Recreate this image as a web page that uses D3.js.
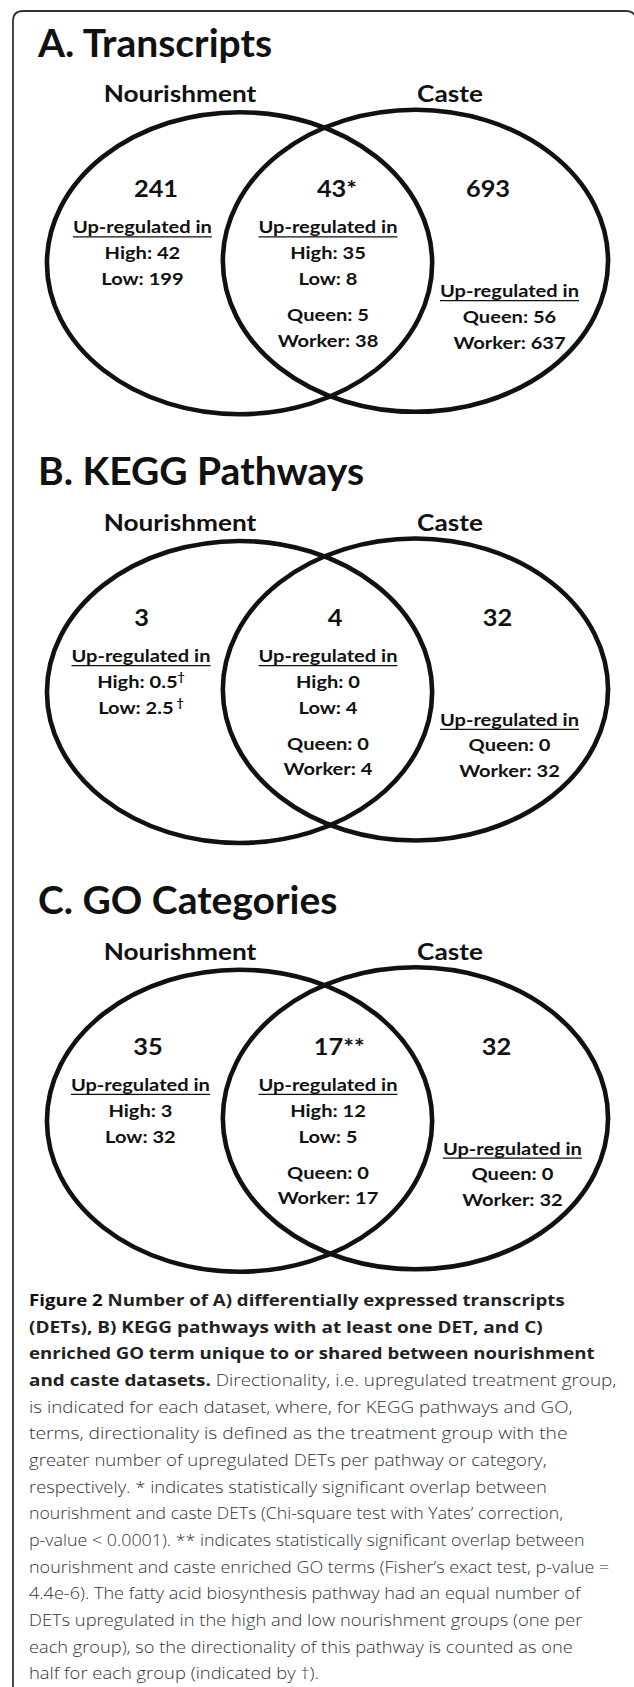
<!DOCTYPE html>
<html lang="en">
<head>
<meta charset="UTF-8">
<title>Figure 2 - Venn diagrams</title>
<script src="https://d3js.org/d3.v7.min.js"></script>
<style>
  body { margin: 0; background: #fff; }
  svg { display: block; }
  text { white-space: pre; }
</style>
</head>
<body>
<div id="chart"></div>
<script>
// panel titles and the two sets
const panelTitles = ["A. Transcripts", "B. KEGG Pathways", "C. GO Categories"];
const setNames = ["Nourishment", "Caste"];

// counts per region (nourishment only, shared, caste only)
const onlyNourish = [241, 3, 35];
const shared = [43, 4, 17];
const sharedMark = ["*", "", "**"];
const onlyCaste = [693, 32, 32];

// up-regulated in ...
const nourishHigh = [42, 0.5, 3];
const nourishLow = [199, 2.5, 32];
const nourishDagger = [false, true, false];
const sharedHigh = [35, 0, 12];
const sharedLow = [8, 4, 5];
const sharedQueen = [5, 0, 0];
const sharedWorker = [38, 4, 17];
const casteQueen = [56, 0, 0];
const casteWorker = [637, 32, 32];

// caption, line by line: [style, text]  (0 regular, 1 bold, 2 bold label)
const captionLines = [
  [[2, "Figure 2"], [1, " Number of A) differentially expressed transcripts"]],
  [[1, "(DETs), B) KEGG pathways with at least one DET, and C)"]],
  [[1, "enriched GO term unique to or shared between nourishment"]],
  [[1, "and caste datasets."], [0, " Directionality, i.e. upregulated treatment group,"]],
  [[0, "is indicated for each dataset, where, for KEGG pathways and GO,"]],
  [[0, "terms, directionality is defined as the treatment group with the"]],
  [[0, "greater number of upregulated DETs per pathway or category,"]],
  [[0, "respectively. * indicates statistically significant overlap between"]],
  [[0, "nourishment and caste DETs (Chi-square test with Yates\u2019 correction,"]],
  [[0, "p-value < 0.0001). ** indicates statistically significant overlap between"]],
  [[0, "nourishment and caste enriched GO terms (Fisher\u2019s exact test, p-value ="]],
  [[0, "4.4e-6). The fatty acid biosynthesis pathway had an equal number of"]],
  [[0, "DETs upregulated in the high and low nourishment groups (one per"]],
  [[0, "each group), so the directionality of this pathway is counted as one"]],
  [[0, "half for each group (indicated by \u2020)."]]
];
// where each caption line ends in the original (ragged right)
const captionEnds = [565, 543, 595, 617, 573, 568, 547, 547, 563, 585, 610, 581, 583, 573, 319];

const W = 634, H = 1687;
const svg = d3.select("#chart").append("svg")
    .attr("width", W)
    .attr("height", H);

// outer frame (open at the bottom)
svg.append("path")
    .attr("d", "M13," + H + " V21 Q13,11 23,11 H626 Q636,11 636,21")
    .attr("fill", "none")
    .attr("stroke", "#333")
    .attr("stroke-width", 1.8);

// scales
let x = d3.scaleLinear().domain([-1, 1]).range([151.6, 503.4]);
let panelY = d3.scaleLinear().domain([0, 2]).range([0, 857.5]);
const radius = 1.095;
const ryPerUnit = 137.9;

// hand placed text columns in the original figure
const numX = [[156, 337, 488], [141.5, 335, 497.4], [148, 339.3, 496.5]];
const colX = [[142.4, 328, 509.5], [141, 328, 509.5], [140.4, 328, 512.4]];

const FONT = "Lato, 'Open Sans', sans-serif";
const SX = 1.14;

function label(g, cx, cy, str, size, sx) {
  return g.append("text")
      .attr("transform", "translate(" + cx + "," + cy + ") scale(" + sx + ",1)")
      .attr("text-anchor", "middle")
      .attr("font-family", FONT)
      .attr("font-weight", 700)
      .attr("font-size", size)
      .attr("fill", "#111")
      .text(str);
}

function underlined(g, cx, cy, str) {
  let t = label(g, cx, cy, str, 17.6, SX);
  let w = t.node().getComputedTextLength() * SX;
  g.append("line")
      .attr("x1", cx - w / 2).attr("x2", cx + w / 2)
      .attr("y1", cy + 3.6).attr("y2", cy + 3.6)
      .attr("stroke", "#111")
      .attr("stroke-width", 1.4);
}

panelTitles.forEach(function (title, i) {
  let g = svg.append("g").attr("transform", "translate(0," + panelY(i) + ")");
  let y = d3.scaleLinear().domain([-1, 1]).range([262 + ryPerUnit, 262 - ryPerUnit]);

  g.append("text")
      .attr("x", 38)
      .attr("y", 56.5)
      .attr("font-family", FONT)
      .attr("font-weight", 700)
      .attr("font-size", 39)
      .attr("fill", "#111")
      .text(title);

  // set names
  label(g, 180, 102, setNames[0], 23, SX);
  label(g, 450, 102, setNames[1], 23, SX);

  // the two ellipses
  g.selectAll("ellipse")
      .data([-0.5, 0.5])
      .enter()
      .append("ellipse")
      .attr("cx", function (d) { return x(d); })
      .attr("cy", function (d) { return y(0) + (d > 0 ? -1.2 : 1.2); })
      .attr("rx", x(radius) - x(0))
      .attr("ry", y(0) - y(radius))
      .attr("fill", "none")
      .attr("stroke", "#111")
      .attr("stroke-width", 4.6);

  // region totals
  label(g, numX[i][0], 197, String(onlyNourish[i]), 23.5, 1.08);
  label(g, numX[i][1], 197, shared[i] + sharedMark[i], 23.5, 1.08);
  label(g, numX[i][2], 197, String(onlyCaste[i]), 23.5, 1.08);

  // nourishment only
  let cl = colX[i];
  underlined(g, cl[0], 233.3, "Up-regulated in");
  let hi = label(g, cl[0], 259.3, "", 17.6, SX);
  hi.append("tspan").text("High: " + nourishHigh[i]);
  let lo = label(g, cl[0], 285, "", 17.6, SX);
  lo.append("tspan").text("Low: " + nourishLow[i]);
  if (nourishDagger[i]) {
    hi.append("tspan").attr("font-size", 11).attr("dy", -7).text("\u2020");
    lo.append("tspan").attr("font-size", 11).attr("dy", -7).text(" \u2020");
  }

  // shared
  underlined(g, cl[1], 233.3, "Up-regulated in");
  label(g, cl[1], 259.3, "High: " + sharedHigh[i], 17.6, SX);
  label(g, cl[1], 285, "Low: " + sharedLow[i], 17.6, SX);
  label(g, cl[1], 321, "Queen: " + sharedQueen[i], 17.6, SX);
  label(g, cl[1], 346.5, "Worker: " + sharedWorker[i], 17.6, SX);

  // caste only
  underlined(g, cl[2], 297, "Up-regulated in");
  label(g, cl[2], 322.5, "Queen: " + casteQueen[i], 17.6, SX);
  label(g, cl[2], 348.5, "Worker: " + casteWorker[i], 17.6, SX);
});

// caption
const capStyle = [
  { weight: 300, fill: "#333" },
  { weight: 700, fill: "#222" },
  { weight: 700, fill: "#111" }
];
const capSize = 16.5;
const capLeft = 29;

function capText(str, kind) {
  return svg.append("text")
      .attr("font-family", "'Open Sans', sans-serif")
      .attr("font-size", capSize)
      .attr("font-weight", capStyle[kind].weight)
      .attr("fill", capStyle[kind].fill)
      .text(str);
}

captionLines.forEach(function (line, j) {
  let cy = 1306 + j * 26.67;
  let texts = line.map(function (piece) { return capText(piece[1], piece[0]); });
  let natural = d3.sum(texts, function (t) { return t.node().getComputedTextLength(); });
  // squeeze the line so it ends where the original line ends
  let k = (captionEnds[j] - capLeft) / natural;
  let cx = capLeft;
  texts.forEach(function (t) {
    t.attr("transform", "translate(" + cx + "," + cy + ") scale(" + k + ",1)");
    cx += t.node().getComputedTextLength() * k;
  });
});
</script>
</body>
</html>
